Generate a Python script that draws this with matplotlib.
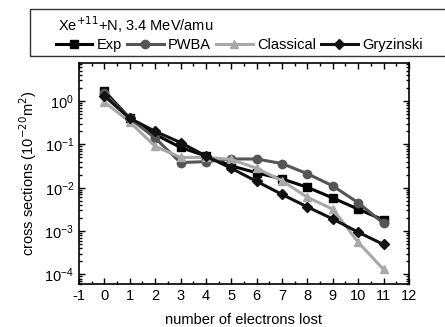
import numpy as np
import matplotlib
matplotlib.use("Agg")
import matplotlib.pyplot as plt
from matplotlib.patches import Rectangle
from matplotlib.ticker import LogLocator, MultipleLocator, NullFormatter

plt.rcParams['font.family'] = ['Liberation Sans', 'DejaVu Sans']
plt.rcParams['axes.unicode_minus'] = False

# electrons lost
n_lost = [0, 1, 2, 3, 4, 5, 6, 7, 8, 9, 10, 11]

# cross sections (10^-20 m^2)
exp_vals = [1.7, 0.40, 0.17, 0.085, 0.054, 0.032, 0.022, 0.016, 0.0102, 0.0058, 0.0032, 0.0018]
pwba_vals = [1.5, 0.40, 0.14, 0.038, 0.040, 0.046, 0.046, 0.036, 0.021, 0.011, 0.0045, 0.0015]
classical_vals = [0.95, 0.33, 0.09, 0.05, 0.05, 0.045, 0.028, 0.0145, 0.006, 0.0032, 0.00055, 0.00013]
gryzinski_vals = [1.3, 0.40, 0.20, 0.11, 0.054, 0.028, 0.014, 0.007, 0.0036, 0.0019, 0.00094, 0.00049]

series = [
    ("Exp", exp_vals, "#000000", "s"),
    ("PWBA", pwba_vals, "#555555", "o"),
    ("Classical", classical_vals, "#a8a8a8", "^"),
    ("Gryzinski", gryzinski_vals, "#111111", "D"),
]

fs = 10.5

fig = plt.figure(figsize=(4.45, 3.27), dpi=100)
ax = fig.add_axes([0.1775, 0.1315, 0.7415, 0.6755])

for name, vals, col, mk in series:
    ms = 5 if mk == "D" else 6
    ax.plot(n_lost, vals, color=col, marker=mk, markersize=ms, linewidth=2.2, label=name)

ax.set_yscale("log")
ax.set_xlim(-1, 12)
ax.set_ylim(6e-5, 7.5)
ax.xaxis.set_major_locator(MultipleLocator(1))
ax.xaxis.set_minor_locator(MultipleLocator(0.5))
ax.yaxis.set_major_locator(LogLocator(base=10, numticks=10))
ax.yaxis.set_minor_locator(LogLocator(base=10, subs=np.arange(2, 10), numticks=10))
ax.yaxis.set_minor_formatter(NullFormatter())
ax.tick_params(which="both", direction="in", top=True, right=True, labelsize=fs, width=1)
ax.tick_params(which="major", length=4)
ax.tick_params(which="minor", length=2)
for sp in ax.spines.values():
    sp.set_linewidth(1.2)

ax.set_xlabel("number of electrons lost", fontsize=fs, labelpad=7)
ax.set_ylabel("cross sections (10$^{-20}$m$^2$)", fontsize=fs)

# legend box at top
fig.patches.append(Rectangle((30 / 445, 1 - 56 / 327), 420 / 445, 47 / 327,
                             transform=fig.transFigure, fill=False,
                             edgecolor="#333333", linewidth=1))
fig.text(58 / 445, 1 - 25 / 327, "Xe$^{+11}$+N, 3.4 MeV/amu", fontsize=fs, va="center")
fig.legend(loc="center left", bbox_to_anchor=(56 / 445, 1 - 45 / 327), ncol=4,
           frameon=False, fontsize=fs, handlelength=2.5, handletextpad=0.3,
           columnspacing=0.35, borderaxespad=0, borderpad=0)

fig.savefig("out.png", dpi=100)
